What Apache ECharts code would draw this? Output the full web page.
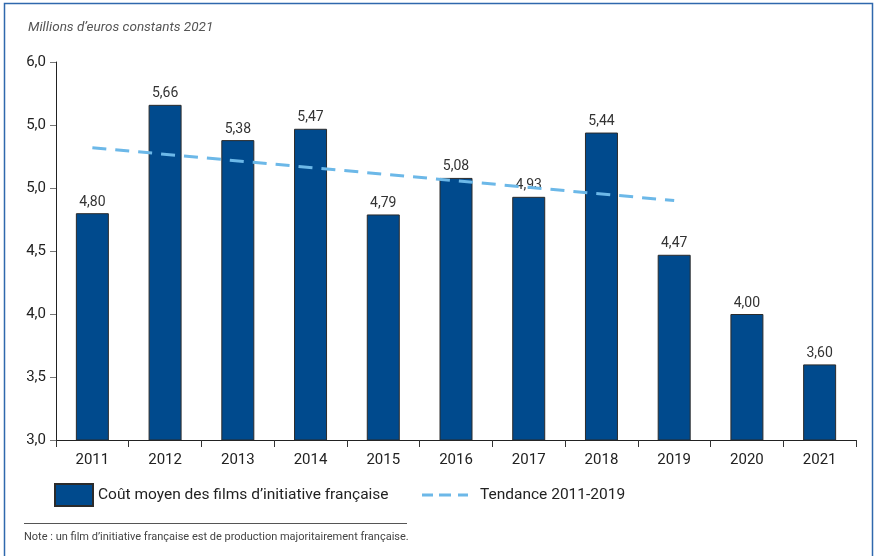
<!DOCTYPE html>
<html>
<head>
<meta charset="utf-8">
<script src="https://cdn.jsdelivr.net/npm/echarts@6/dist/echarts.min.js"></script>
<style>
html,body{margin:0;padding:0;background:#fff;}
#c{width:875px;height:556px;}
</style>
</head>
<body>
<div id="c"></div>
<script>
var categories = ['2011','2012','2013','2014','2015','2016','2017','2018','2019','2020','2021'];
var costValues = [4.80, 5.66, 5.38, 5.47, 4.79, 5.08, 4.93, 5.44, 4.47, 4.00, 3.60];
var trendPoints = [['2011', 5.32], ['2019', 4.90]];
var yTickLabels = {'3': '3,0', '3.5': '3,5', '4': '4,0', '4.5': '4,5', '5': '5,0', '5.5': '5,0', '6': '6,0'};
var seriesNames = ['Coût moyen des films d’initiative française', 'Tendance 2011-2019'];
var titleText = 'Millions d’euros constants 2021';
var noteText = 'Note : un film d’initiative française est de production majoritairement française.';

var FONT = 'Roboto, "Liberation Sans", sans-serif';
var chart = echarts.init(document.getElementById('c'));
chart.setOption({
  animation: false,
  textStyle: {fontFamily: FONT},
  grid: {left: 56, right: 19, top: 62, bottom: 116, containLabel: false},
  graphic: [
    {type: 'rect', shape: {x: 4.5, y: 3.5, width: 868, height: 560}, style: {fill: 'none', stroke: '#2f68ad', lineWidth: 1.5}, silent: true},
    {type: 'text', left: 28, top: 21, style: {text: titleText, font: 'italic 13.5px ' + FONT, fill: '#555'}},
    {type: 'line', shape: {x1: 24, y1: 523.5, x2: 407, y2: 523.5}, style: {stroke: '#555', lineWidth: 1}},
    {type: 'text', left: 24, top: 532, style: {text: noteText, font: '11px ' + FONT, fill: '#444'}}
  ],
  legend: [
    {data: [seriesNames[0]], left: 54, top: 483, padding: 0, itemWidth: 38, itemHeight: 22, itemGap: 7, icon: 'rect',
     textStyle: {fontSize: 15.5, color: '#222', fontFamily: FONT}, selectedMode: false},
    {data: [seriesNames[1]], left: 422, top: 487, padding: 0, itemWidth: 46, itemHeight: 3, itemGap: 11,
     icon: 'path://M0,0h11v3h-11z M17,0h12v3h-12z M36,0h10v3h-10z',
     textStyle: {fontSize: 15.5, color: '#222', fontFamily: FONT, padding: [0, 0, 0, 7]}, selectedMode: false}
  ],
  xAxis: {
    type: 'category', data: categories,
    axisLine: {lineStyle: {color: '#222', width: 1}},
    axisTick: {show: true, length: 7, lineStyle: {color: '#333'}},
    axisLabel: {fontSize: 15, color: '#222', margin: 13, fontFamily: FONT}
  },
  yAxis: {
    type: 'value', min: 3, max: 6, interval: 0.5,
    axisLine: {show: true, lineStyle: {color: '#222', width: 1}},
    axisTick: {show: true, length: 6, lineStyle: {color: '#777'}},
    splitLine: {show: false},
    axisLabel: {fontSize: 15, color: '#222', margin: 10, fontFamily: FONT,
      formatter: function (v) { return yTickLabels[String(v)] || String(v).replace('.', ','); }}
  },
  series: [
    {
      name: seriesNames[0], type: 'bar', data: costValues, barWidth: 33,
      itemStyle: {color: '#004a8d', borderColor: '#2b2b2b', borderWidth: 1},
      label: {show: true, position: 'top', distance: 4, fontSize: 14, color: '#333', fontFamily: FONT,
        formatter: function (p) { return p.value.toFixed(2).replace('.', ','); }}
    },
    {
      name: seriesNames[1], type: 'line', data: trendPoints, symbol: 'none', z: 5,
      lineStyle: {color: '#6cb8e8', width: 3, type: [14, 9]},
      itemStyle: {color: '#6cb8e8'}
    }
  ]
});
</script>
</body>
</html>
